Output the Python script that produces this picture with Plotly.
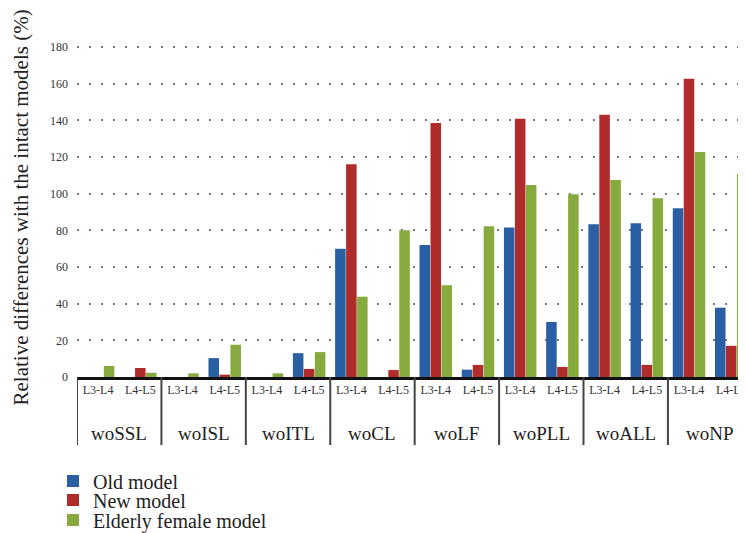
import plotly.graph_objects as go

groups = ["woSSL", "woISL", "woITL", "woCL", "woLF", "woPLL", "woALL", "woNP"]
segments = ["L3-L4", "L4-L5"]

old_model = [0, 0, 0, 10.3, 0, 13, 70, 0, 72, 4, 81.6, 30, 83.3, 83.8, 92, 37.8]
new_model = [0, 4.9, 0, 1.3, 0, 4.4, 116, 3.8, 138.6, 6.6, 140.8, 5.5, 143, 6.6, 162.7, 17]
elderly_model = [6, 2.3, 2, 17.6, 2, 13.6, 43.8, 80, 50, 82.2, 104.7, 99.7, 107.4, 97.5, 122.7, 110.7]

series_names = ["Old model", "New model", "Elderly female model"]
series_colors = ["#2b5fa3", "#b02c2b", "#86aa3d"]

y_ticks = [0, 20, 40, 60, 80, 100, 120, 140, 160, 180]

x_keys = [f"{g} {s}" for g in groups for s in segments]
x_text = [s for g in groups for s in segments]

FONT = "Liberation Serif"
W, H = 738, 525          # page has an 8px body margin
L, T, B = 69, 30, 156
PW, PH = W - L, H - T - B

fig = go.Figure()
legend_ids = ["legend", "legend2", "legend3"]
for name, vals, col, lg in zip(series_names, [old_model, new_model, elderly_model], series_colors, legend_ids):
    fig.add_trace(go.Bar(x=x_keys, y=vals, name=name, legend=lg, showlegend=True,
                         marker=dict(color=col, line=dict(width=0))))

shapes = []
for i in range(len(groups)):
    shapes.append(dict(type="line", xref="x", yref="paper", x0=2 * i - 0.5, x1=2 * i - 0.5,
                       y0=0, y1=-68 / PH, line=dict(color="#444", width=2)))

annotations = []
for i, g in enumerate(groups):
    annotations.append(dict(x=2 * i + 0.5, xref="x", y=-56 / PH, yref="paper", text=g,
                            showarrow=False, yanchor="middle", xanchor="center",
                            font=dict(family=FONT, size=19, color="#222")))
annotations.append(dict(x=-57 / PW, xref="paper", y=0.5, yref="paper",
                        text="Relative differences with the intact models (%)",
                        textangle=-90, showarrow=False, xanchor="center", yanchor="middle",
                        font=dict(family=FONT, size=21, color="#222")))

legend_centers = [473, 492, 512]
legend_layout = {}
for lg, yc in zip(legend_ids, legend_centers):
    legend_layout[lg] = dict(orientation="v", x=-24 / PW, y=-(yc - (T + PH)) / PH,
                             xanchor="left", yanchor="middle", visible=True,
                             font=dict(family=FONT, size=20, color="#222"),
                             itemwidth=30, bgcolor="rgba(0,0,0,0)")

fig.update_layout(
    width=W, height=H, showlegend=True,
    margin=dict(l=L, r=0, t=T, b=B, autoexpand=False),
    paper_bgcolor="white", plot_bgcolor="white",
    barmode="group", bargap=0.22, bargroupgap=0.04,
    font=dict(family=FONT, color="#333"),
    shapes=shapes, annotations=annotations,
    xaxis=dict(tickmode="array", tickvals=x_keys, ticktext=x_text, tickangle=0,
               range=[-0.5, 15.35], showline=True, linecolor="#111", linewidth=2.5,
               showgrid=False, ticks="", tickfont=dict(family=FONT, size=12, color="#333"),
               automargin=False, fixedrange=True),
    yaxis=dict(range=[0, 184.9], tickvals=y_ticks, showgrid=True,
               gridcolor="#777", gridwidth=2, griddash="2px,10px",
               zeroline=False, showline=False, ticks="", automargin=False,
               tickfont=dict(family=FONT, size=12, color="#333"), ticklabelstandoff=8),
    **legend_layout,
)

fig.write_html("out.html")
